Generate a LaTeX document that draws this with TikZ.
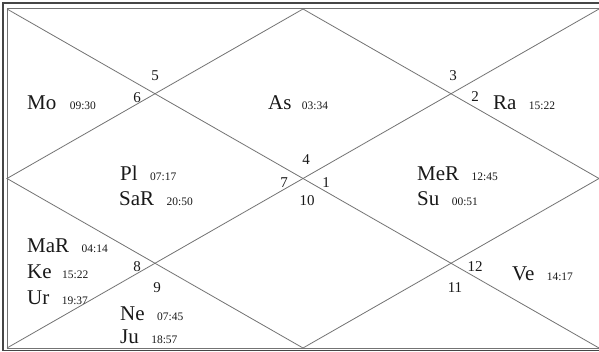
\documentclass[tikz,border=0pt]{standalone}
\usepackage{fontspec}
\setmainfont{Liberation Serif}
\usepackage{xcolor}
\usepackage{tikz}
\usetikzlibrary{positioning}

\definecolor{chartline}{RGB}{115,115,115}
\definecolor{framedark}{RGB}{70,70,70}
\definecolor{chartink}{RGB}{25,25,25}

\begin{document}
\begin{tikzpicture}[x=1pt, y=-1pt,
    planet/.style={anchor=base west, inner sep=0pt, text=chartink, font=\fontsize{21}{21}\selectfont},
    deg/.style={inner sep=0pt, text=chartink, font=\fontsize{11.5}{11.5}\selectfont},
    house/.style={inner sep=0pt, text=chartink, font=\fontsize{15}{15}\selectfont}]
    \useasboundingbox (0,0) rectangle (599,352);
    \fill[white] (0,0) rectangle (599,352);

    % Frame
    \draw[framedark, line width=1.3pt] (599,3) -- (3,3) -- (3,350.5) -- (599,350.5);
    \draw[chartline, line width=0.9pt] (599,8.5) -- (7,8.5) -- (7,348.5) -- (599,348.5);

    % Chart corners and side midpoints
    \coordinate (tl) at (7,9);
    \coordinate (tr) at (599,9);
    \coordinate (bl) at (7,348);
    \coordinate (br) at (599,348);
    \coordinate (tm) at (303,9);
    \coordinate (rm) at (599,178.5);
    \coordinate (bm) at (303,348);
    \coordinate (lm) at (7,178.5);

    % Diagonals and diamond
    \draw[chartline, line width=0.8pt] (tl) -- (br);
    \draw[chartline, line width=0.8pt] (bl) -- (tr);
    \draw[chartline, line width=0.8pt] (tm) -- (rm) -- (bm) -- (lm) -- cycle;

    % House numbers
    \node[house] (h1) at (326,183) {1};
    \node[house] (h2) at (475,97) {2};
    \node[house] (h3) at (453,76) {3};
    \node[house] (h4) at (306,160) {4};
    \node[house] (h5) at (155,76) {5};
    \node[house] (h6) at (137,98) {6};
    \node[house] (h7) at (284,183) {7};
    \node[house] (h8) at (137,267) {8};
    \node[house] (h9) at (157,288) {9};
    \node[house] (h10) at (307,201) {10};
    \node[house] (h11) at (455,288) {11};
    \node[house] (h12) at (475,267) {12};

    % Planets with degrees
    \node[planet] (mo) at (27,110) {Mo};
    \node[deg, right=13pt of mo.base east, anchor=base west] (modeg) {09:30};
    \node[planet] (as) at (268,110) {As};
    \node[deg, right=10pt of as.base east, anchor=base west] (asdeg) {03:34};
    \node[planet] (ra) at (493,110) {Ra};
    \node[deg, right=12pt of ra.base east, anchor=base west] (radeg) {15:22};

    \node[planet] (pl) at (120,181) {Pl};
    \node[deg, right=12pt of pl.base east, anchor=base west] (pldeg) {07:17};
    \node[planet] (sar) at (119,206) {SaR};
    \node[deg, right=12pt of sar.base east, anchor=base west] (sardeg) {20:50};

    \node[planet] (mer) at (417,181) {MeR};
    \node[deg, right=12pt of mer.base east, anchor=base west] (merdeg) {12:45};
    \node[planet] (su) at (417,206) {Su};
    \node[deg, right=12pt of su.base east, anchor=base west] (sudeg) {00:51};

    \node[planet] (mar) at (27,253) {MaR};
    \node[deg, right=12pt of mar.base east, anchor=base west] (mardeg) {04:14};
    \node[planet] (ke) at (27,279) {Ke};
    \node[deg, right=10pt of ke.base east, anchor=base west] (kedeg) {15:22};
    \node[planet] (ur) at (27,305) {Ur};
    \node[deg, right=12pt of ur.base east, anchor=base west] (urdeg) {19:37};

    \node[planet] (ne) at (120,320) {Ne};
    \node[deg, right=12pt of ne.base east, anchor=base west] (nedeg) {07:45};
    \node[planet] (ju) at (120,343) {Ju};
    \node[deg, right=12pt of ju.base east, anchor=base west] (judeg) {18:57};

    \node[planet] (ve) at (512,280) {Ve};
    \node[deg, right=12pt of ve.base east, anchor=base west] (vedeg) {14:17};
\end{tikzpicture}
\end{document}
